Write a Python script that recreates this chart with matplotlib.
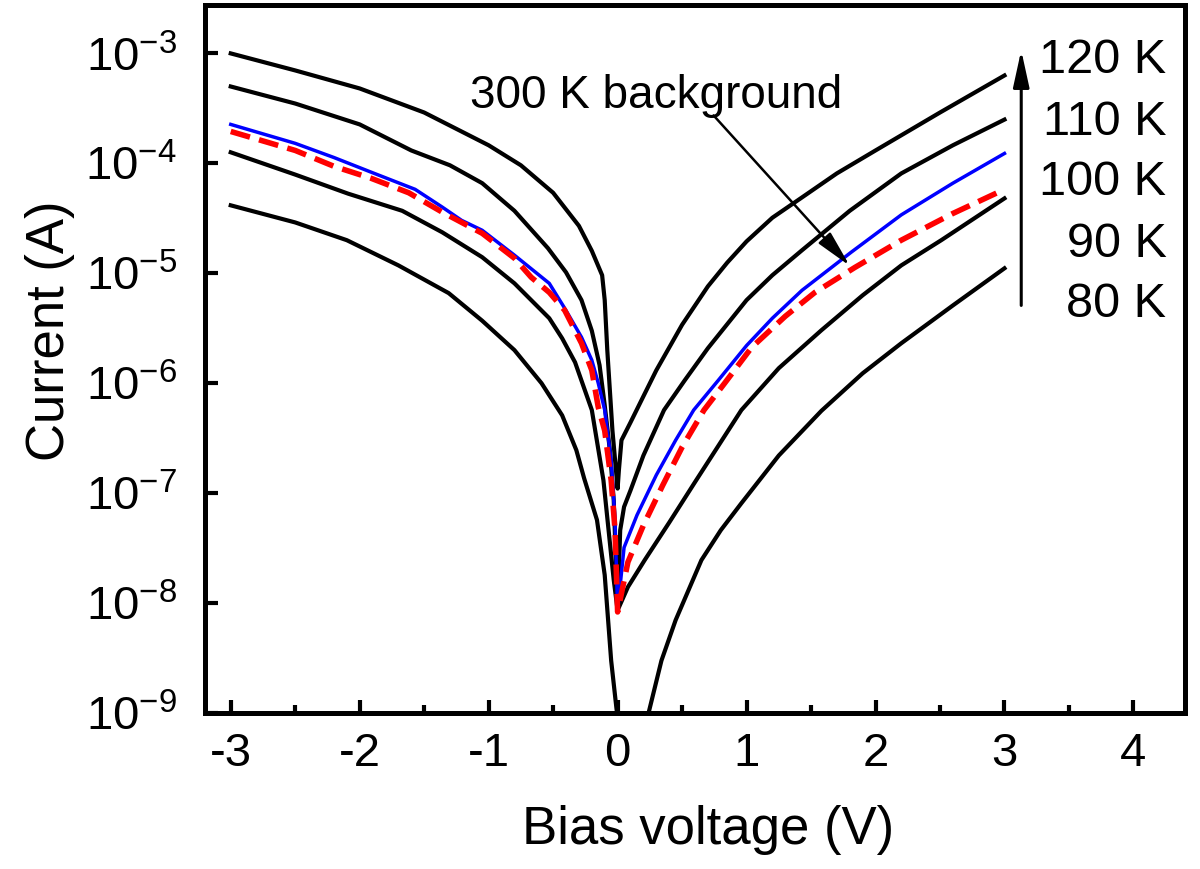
import numpy as np
import matplotlib
matplotlib.use("Agg")
import matplotlib.pyplot as plt

plt.rcParams['font.family'] = ['Liberation Sans', 'DejaVu Sans']
plt.rcParams['mathtext.fontset'] = 'custom'
plt.rcParams['mathtext.rm'] = 'Liberation Sans'
plt.rcParams['axes.unicode_minus'] = False

# I-V curves (bias in V, current in A)
v_120 = [-3.0, -2.5, -2.0, -1.5, -1.0, -0.75, -0.5, -0.3, -0.2, -0.12, -0.1, -0.08, -0.04, 0.0,
         0.01, 0.03, 0.1, 0.2, 0.3, 0.5, 0.7, 0.85, 1.0, 1.2, 1.43, 1.7, 2.0, 2.5, 3.0]
i_120 = [1.0e-3, 7.0e-4, 4.8e-4, 2.9e-4, 1.46e-4, 9.6e-5, 5.4e-5, 2.7e-5, 1.6e-5, 9.6e-6, 5.7e-6, 2.0e-6, 3.7e-7, 1.1e-7,
         1.62e-7, 3.03e-7, 4.4e-7, 7.6e-7, 1.31e-6, 3.4e-6, 7.6e-6, 1.25e-5, 1.95e-5, 3.2e-5, 4.9e-5, 8.1e-5, 1.31e-4, 2.9e-4, 6.3e-4]

v_110 = [-3.0, -2.5, -2.0, -1.6, -1.3, -1.05, -0.8, -0.54, -0.4, -0.28, -0.2, -0.14, -0.1, -0.06, -0.03, 0.0,
         0.02, 0.05, 0.1, 0.2, 0.36, 0.52, 0.7, 1.0, 1.2, 1.43, 1.8, 2.2, 2.6, 3.0]
i_110 = [5.0e-4, 3.5e-4, 2.26e-4, 1.31e-4, 9.6e-5, 6.6e-5, 3.7e-5, 1.69e-5, 1.02e-5, 5.7e-6, 3.0e-6, 1.46e-6, 6.3e-7, 2.46e-7, 8.6e-8, 8.6e-9,
         4.6e-8, 7.5e-8, 1.06e-7, 2.2e-7, 5.7e-7, 1.06e-6, 2.08e-6, 5.7e-6, 9.6e-6, 1.62e-5, 3.7e-5, 8.1e-5, 1.46e-4, 2.5e-4]

v_100 = [-3.0, -2.5, -2.2, -1.91, -1.57, -1.36, -1.21, -1.05, -0.8, -0.53, -0.41, -0.28, -0.2, -0.15, -0.1, -0.05, -0.02, 0.0,
         0.05, 0.15, 0.3, 0.45, 0.59, 0.78, 1.0, 1.2, 1.43, 1.81, 2.2, 2.6, 3.0]
i_100 = [2.26e-4, 1.52e-4, 1.13e-4, 8.3e-5, 5.8e-5, 4.0e-5, 3.03e-5, 2.46e-5, 1.46e-5, 8.1e-6, 4.8e-6, 2.62e-6, 1.62e-6, 1.0e-6, 5.7e-7, 2.0e-7, 5.7e-8, 8.6e-9,
         3.2e-8, 6.3e-8, 1.46e-7, 3.03e-7, 5.7e-7, 1.06e-6, 2.2e-6, 3.9e-6, 7.0e-6, 1.55e-5, 3.4e-5, 6.6e-5, 1.23e-4]

v_300 = [-3.0, -2.5, -2.2, -1.91, -1.62, -1.36, -1.05, -0.8, -0.67, -0.53, -0.41, -0.28, -0.2, -0.15, -0.1, -0.05, -0.02, 0.0,
         0.08, 0.2, 0.35, 0.5, 0.67, 0.83, 1.04, 1.3, 1.53, 1.84, 2.2, 2.6, 3.0]
i_300 = [1.95e-4, 1.31e-4, 9.4e-5, 7.3e-5, 5.4e-5, 3.6e-5, 2.31e-5, 1.37e-5, 9.2e-6, 6.7e-6, 4.6e-6, 2.31e-6, 1.31e-6, 6.05e-7, 3.7e-7, 1.31e-7, 4.6e-8, 8.3e-9,
         2.36e-8, 5.1e-8, 1.18e-7, 2.62e-7, 5.7e-7, 1.0e-6, 2.12e-6, 4.06e-6, 6.7e-6, 1.13e-5, 2.0e-5, 3.5e-5, 5.8e-5]

v_90 = [-3.0, -2.5, -2.09, -1.67, -1.36, -1.05, -0.8, -0.53, -0.43, -0.33, -0.2, -0.11, -0.03, 0.0,
        0.08, 0.21, 0.4, 0.6, 0.96, 1.25, 1.58, 1.9, 2.2, 2.51, 3.0]
i_90 = [1.26e-4, 7.9e-5, 5.3e-5, 3.7e-5, 2.36e-5, 1.4e-5, 8.1e-6, 3.9e-6, 2.56e-6, 1.55e-6, 5.7e-7, 1.31e-7, 1.62e-8, 8.6e-9,
        1.4e-8, 2.46e-8, 5.4e-8, 1.26e-7, 5.7e-7, 1.37e-6, 3.03e-6, 6.3e-6, 1.18e-5, 2.0e-5, 4.8e-5]

v_80 = [-3.0, -2.5, -2.1, -1.7, -1.31, -1.05, -0.8, -0.59, -0.43, -0.32, -0.26, -0.16, -0.1, -0.05, -0.01,
        0.1, 0.24, 0.34, 0.45, 0.65, 0.8, 0.96, 1.25, 1.58, 1.9, 2.2, 2.6, 3.0]
i_80 = [4.15e-5, 2.9e-5, 2.0e-5, 1.18e-5, 6.6e-6, 3.7e-6, 2.0e-6, 1.0e-6, 5.1e-7, 2.46e-7, 1.37e-7, 5.7e-8, 1.8e-8, 3.0e-9, 1.13e-9,
        1.0e-10, 1.0e-9, 3.0e-9, 7.0e-9, 2.46e-8, 4.6e-8, 8.1e-8, 2.2e-7, 5.6e-7, 1.23e-6, 2.31e-6, 5.1e-6, 1.11e-5]

temp_labels = ['120 K', '110 K', '100 K', '90 K', '80 K']
y_exponents = [-9, -8, -7, -6, -5, -4, -3]
x_ticks = [-3, -2, -1, 0, 1, 2, 3, 4]

fig = plt.figure(figsize=(12, 8.69), dpi=100)
ax = fig.add_axes([0.1708, 0.1795, 0.8167, 0.8147])

for v, i in [(v_120, i_120), (v_110, i_110), (v_90, i_90), (v_80, i_80)]:
    ax.plot(v, i, color='black', lw=3.0, solid_joinstyle='round')
ax.plot(v_100, i_100, color='#0000ff', lw=2.5, solid_joinstyle='round')
ax.plot(v_300, i_300, color='#ff0000', lw=4, dashes=(3.6, 1.7))

ax.set_yscale('log')
ax.set_xlim(-3.2, 4.4)
ax.set_ylim(1e-9, 10 ** -2.56)

ax.set_xticks(x_ticks)
ax.set_xticklabels([str(t) for t in x_ticks])
ax.set_xticks(np.arange(-2.5, 4.0, 1.0), minor=True)
ax.set_yticks([10.0 ** e for e in y_exponents])
ax.set_yticklabels([r'$\mathregular{10^{%d}}$' % e for e in y_exponents])
ax.yaxis.set_minor_locator(matplotlib.ticker.NullLocator())

ax.tick_params(axis='both', which='major', direction='in', length=9.5, width=3,
               labelsize=34, top=False, right=False)
ax.tick_params(axis='x', which='minor', direction='in', length=6, width=3, top=False)
ax.tick_params(axis='x', which='major', pad=14)
ax.tick_params(axis='y', which='major', pad=20)
for s in ax.spines.values():
    s.set_linewidth(3.6)

ax.set_xlabel('Bias voltage (V)', fontsize=38)
ax.set_ylabel('Current (A)', fontsize=38)
ax.xaxis.set_label_coords(0.513, -0.13)
ax.yaxis.set_label_coords(-0.133, 0.54)

# 300 K background annotation
ax.text(0.30, 3.16e-4, '300 K background', fontsize=33, ha='center', va='baseline')
ax.annotate('', xy=(1.80, 1.17e-5), xytext=(0.744, 2.73e-4),
            arrowprops=dict(arrowstyle='-|>,head_length=1.6,head_width=0.35',
                            mutation_scale=14, lw=1.8, color='black',
                            shrinkA=0, shrinkB=0))

# temperature arrow and labels
ax.annotate('', xy=(3.13, 1.07e-3), xytext=(3.13, 5.1e-6),
            arrowprops=dict(arrowstyle='-|>,head_length=1.6,head_width=0.35',
                            mutation_scale=14, lw=2.2, color='black',
                            shrinkA=0, shrinkB=0))
label_logs = [-3.182, -3.745, -4.29, -4.855, -5.40]
for lab, lg in zip(temp_labels, label_logs):
    ax.text(4.256, 10 ** lg, lab, fontsize=35, ha='right', va='baseline')

fig.savefig('out.png', dpi=100)
